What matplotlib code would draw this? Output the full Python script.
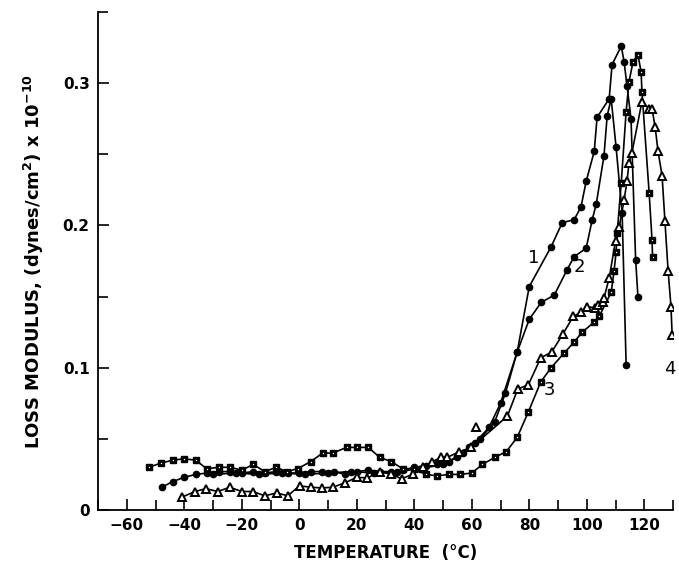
import matplotlib
matplotlib.use("Agg")
import matplotlib.pyplot as plt
from matplotlib.ticker import MultipleLocator, FixedLocator

# ---- data ----
s1_T = [-47.8, -44, -40, -36, -32, -28, -24, -20, -16, -12, -8, -4, 0, 4, 8, 12, 16, 20, 24, 28,
        32, 36, 40, 44, 48, 52, 55, 59, 63, 68, 71.7, 75.8, 80, 87.6, 91.5, 95.6, 98, 99.8, 102.6,
        103.6, 107.8, 108.8, 112, 113, 114, 115.4, 117, 117.8]
s1_v = [0.016, 0.020, 0.023, 0.025, 0.026, 0.027, 0.027, 0.026, 0.027, 0.026, 0.027, 0.026, 0.026,
        0.027, 0.027, 0.027, 0.025, 0.027, 0.028, 0.027, 0.027, 0.028, 0.030, 0.031, 0.032, 0.034,
        0.037, 0.044, 0.050, 0.062, 0.082, 0.111, 0.157, 0.185, 0.202, 0.204, 0.213, 0.231, 0.252,
        0.276, 0.289, 0.313, 0.326, 0.315, 0.298, 0.275, 0.176, 0.150]

s2_T = [-30, -22, -14, -6, 2, 10, 18, 26, 34, 42, 50, 57, 61, 66, 70, 75.8, 80, 84.2, 88.7, 93.2,
        95.6, 99.8, 101.9, 103.3, 106, 107.1, 108.5, 110.2, 112.3, 113.7]
s2_v = [0.025, 0.026, 0.025, 0.026, 0.025, 0.026, 0.027, 0.026, 0.027, 0.029, 0.032, 0.040, 0.047,
        0.058, 0.075, 0.111, 0.134, 0.146, 0.151, 0.169, 0.178, 0.184, 0.204, 0.215, 0.249, 0.277,
        0.289, 0.255, 0.209, 0.102]

s3_T = [-52.3, -48.1, -44, -40.1, -36, -32.2, -28, -24, -20, -16, -12, -8, -4.4, -0.6, 4, 8.1,
        11.6, 16.5, 20, 24, 28, 32, 36, 40, 44, 48, 52, 56, 60, 63.7, 68, 72, 75.8, 79.7, 84, 87.6,
        92, 95.6, 98.4, 102.6, 104.3, 108.5, 109.5, 110.2, 110.6, 112, 113.7, 114.7, 116.1, 117.8,
        118.9, 119.2, 121.7, 122.7, 122.9]
s3_v = [0.030, 0.033, 0.035, 0.036, 0.035, 0.029, 0.030, 0.030, 0.028, 0.032, 0.027, 0.030, 0.027,
        0.029, 0.034, 0.040, 0.040, 0.044, 0.044, 0.044, 0.037, 0.034, 0.029, 0.029, 0.025, 0.024,
        0.025, 0.025, 0.026, 0.032, 0.037, 0.041, 0.051, 0.069, 0.090, 0.100, 0.110, 0.118, 0.125,
        0.132, 0.136, 0.153, 0.168, 0.181, 0.195, 0.230, 0.280, 0.301, 0.315, 0.320, 0.308, 0.294,
        0.223, 0.190, 0.178]

s4_T = [-40.8, -36.3, -32.5, -28.3, -24.2, -20, -16.2, -12, -7.8, -4, 0.1, 4, 7.8, 11.6, 15.8, 20,
        23.7, 28, 32, 35.6, 39.4, 43, 46.3, 49.4, 51.5, 55.7, 59.9, 72.4, 76, 79.7, 84, 87.8, 91.8,
        95.3, 98, 100, 103, 104, 105.5, 106, 107.8, 110, 111.3, 113, 114, 114.7, 115.7, 119.2,
        121.7, 122.7, 123.8, 124.8, 126.2, 127.2, 128.3, 129.3, 129.7]
s4_v = [0.009, 0.013, 0.015, 0.013, 0.016, 0.013, 0.013, 0.010, 0.012, 0.010, 0.017, 0.016, 0.0155,
        0.016, 0.019, 0.023, 0.0225, 0.027, 0.025, 0.022, 0.025, 0.030, 0.034, 0.037, 0.037, 0.041,
        0.044, 0.066, 0.085, 0.088, 0.107, 0.111, 0.124, 0.136, 0.139, 0.143, 0.142, 0.144, 0.146,
        0.149, 0.163, 0.189, 0.199, 0.218, 0.231, 0.244, 0.251, 0.287, 0.282, 0.282, 0.269, 0.252,
        0.235, 0.203, 0.168, 0.143, 0.123]
s4_extra_T = [61.6]
s4_extra_v = [0.058]

curve_labels = ["1", "2", "3", "4"]
label_T = [81.7, 97.4, 87.0, 130.9]
label_v = [0.177, 0.171, 0.0845, 0.099]

x_major = [-60, -40, -20, 0, 20, 40, 60, 80, 100, 120]
y_major = [0, 0.1, 0.2, 0.3]
y_ticklabels = ["0", "0.1", "0.2", "0.3"]

# ---- figure ----
plt.rcParams['font.family'] = ['DejaVu Sans']
fig = plt.figure(figsize=(6.79, 5.62), dpi=100)
ax = fig.add_axes([98/679, 1 - 510/562, (673 - 98)/679, (510 - 12)/562])

lw = 1.2
ax.plot(s1_T, s1_v, '-', color='black', lw=lw, marker='o', ms=4.5, mfc='black', mec='black')
ax.plot(s2_T, s2_v, '-', color='black', lw=lw, marker='o', ms=4.5, mfc='black', mec='black')
ax.plot(s3_T, s3_v, '-', color='black', lw=lw, marker='s', ms=5.0, mfc='black', mec='black')
ax.plot(s3_T, s3_v, ls='none', marker='o', ms=1.0, mfc='white', mew=0)
ax.plot(s4_T, s4_v, '-', color='black', lw=lw, marker='^', ms=5.5, mfc='white', mec='black', mew=1.4)
ax.plot(s4_extra_T, s4_extra_v, ls='none', marker='^', ms=5.5, mfc='white', mec='black', mew=1.4)

for t, x, y in zip(curve_labels, label_T, label_v):
    ax.text(x, y, t, fontsize=13, ha='right' if t == "4" else 'center', va='center',
            clip_on=False)

ax.set_xlim(-70, 130)
ax.set_ylim(0, 0.35)
ax.spines['top'].set_visible(False)
ax.spines['right'].set_visible(False)
ax.spines['left'].set_linewidth(1.3)
ax.spines['bottom'].set_linewidth(1.3)

ax.xaxis.set_major_locator(FixedLocator(x_major))
ax.xaxis.set_minor_locator(MultipleLocator(10))
ax.set_yticks(y_major)
ax.set_yticklabels(y_ticklabels)
ax.yaxis.set_minor_locator(FixedLocator([0.05, 0.15, 0.25, 0.35]))
ax.tick_params(which='major', direction='in', length=8, width=1.2, labelsize=11, pad=6)
ax.tick_params(which='minor', direction='in', length=7, width=1.2)
for lab in ax.get_xticklabels() + ax.get_yticklabels():
    lab.set_fontweight('bold')

ax.set_xlabel("TEMPERATURE  (\u00b0C)", fontsize=12, fontweight='bold', labelpad=8)
ax.set_ylabel("LOSS MODULUS, (dynes/cm$^{\\mathbf{2}}$) x 10$^{\\mathbf{-10}}$",
              fontsize=13, fontweight='bold', labelpad=12)

fig.savefig("out.png", dpi=100)
